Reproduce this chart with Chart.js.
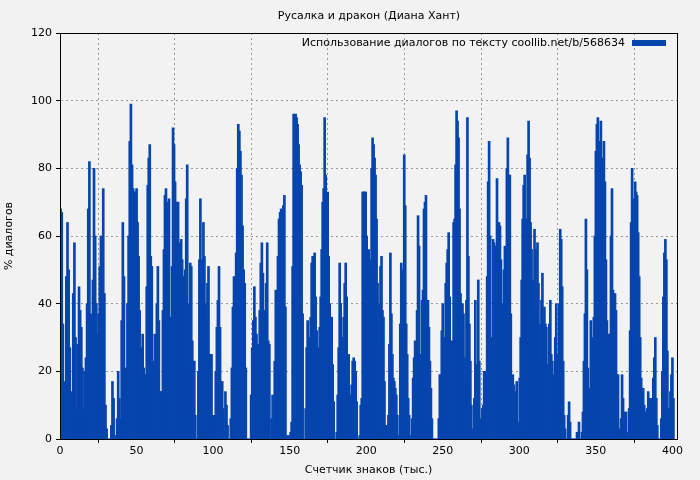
<!DOCTYPE html>
<html>
<head>
<meta charset="utf-8">
<script src="https://cdn.jsdelivr.net/npm/chart.js@4/dist/chart.umd.min.js"></script>
<style>
  html, body { margin: 0; padding: 0; background: #f2f2f2; }
  #wrap { width: 700px; height: 480px; }
</style>
</head>
<body>
<div id="wrap"><canvas id="dialogChart" width="700" height="480"></canvas></div>
<script>
// Chart text
const chartTitle = 'Русалка и дракон (Диана Хант)';
const legendLabel = 'Использование диалогов по тексту coollib.net/b/568634';
const xTitle = 'Счетчик знаков (тыс.)';
const yTitle = '% диалогов';

// x ticks and y ticks
const xTicks = [0, 50, 100, 150, 200, 250, 300, 350, 400];
const yTicks = [0, 20, 40, 60, 80, 100, 120];

// Each segment of readings covers [start, end] (thousand chars)
const segStarts = [0, 49.7, 99.3, 149, 198.7, 248.4, 298, 347.7];
const segEnds = [49.7, 99.3, 149, 198.7, 248.4, 298, 347.7, 401];

// % dialogue
const seg0 = [68,67,34,1,17,48,64,50,27,9,14,43,58,30,9,28,45,38,33,21,9,20,24,40,68,82,37,36,47,80,60,40,31,37,51,60,38,74,43,10,3,0,0,0,4,17,12,0,1,6,20,12,6,35,64,48,15,21,40,60,88,99,81,74,73,73];
const seg1 = [74,64,54,38,18,27,31,21,19,19,45,75,83,87,54,51,6,23,31,19,40,51,35,14,14,14,38,56,72,74,68,70,71,36,8,51,92,87,76,70,70,70,58,55,59,53,48,48,50,71,81,40,38,52,51,29,23,23,7,0,0,20,53,71,46,53,64,54,40,36,46,51,25,25,25];
const seg2 = [7,7,7,20,33,41,51,33,17,17,9,2,14,10,4,0,0,6,21,39,48,39,55,80,93,91,85,78,63,50,46,21,0,0,0,0,13,27,35,45,36,31,28,27,38,52,58,49,38,27,46,58,29,28,0,6,13,4,23,44,42,54,65,67,68,65,69,72,39,1,1];
const seg3 = [0,1,2,5,51,96,79,96,95,93,87,81,79,75,37,0,0,9,27,35,30,30,36,52,54,53,55,42,32,27,26,33,42,56,70,74,95,78,69,73,54,40,27,36,22,11,0,0,2,13,27,52,40,27,30,36,46,52,42,20,25,13,7,16,23,24,23,20,11,0,0,1,10,12,73,73];
const seg4 = [73,73,60,46,56,51,53,80,89,87,83,78,65,46,28,40,51,54,38,36,17,4,4,3,7,28,55,37,25,18,17,15,13,7,1,0,34,52,50,41,84,69,34,25,12,7,1,0,6,18,24,29,25,38,66,57,25,25,41,44,68,70,72,39,41,33,23,15,6,0,0,0,0,0,0,6,19];
const seg5 = [19,32,40,30,11,46,52,56,61,42,29,11,29,64,65,81,97,94,89,68,43,31,40,37,24,17,41,95,54,34,23,10,2,3,12,41,22,13,47,23,0,6,9,10,20,17,20,48,76,88,60,0,30,59,58,57,54,77,62,64,63,53,40,36,50,57,55,80,89,78,78,37,17,19,16,14,14];
const seg6 = [17,5,0,18,30,47,65,75,78,52,65,84,94,83,64,56,47,36,62,56,38,58,46,23,34,41,49,35,39,34,33,18,22,34,41,25,23,14,19,30,40,22,25,40,62,59,45,23,7,3,0,0,7,11,5,0,0,0,0,0,0,2,1,5,0,0,2,8,23,37,65,50,21,10,15,35,29];
const seg7 = [30,36,60,85,93,95,88,70,94,83,71,88,76,53,35,30,31,31,60,74,44,26,43,38,19,19,3,0,6,19,12,8,5,8,2,0,9,32,64,80,63,71,76,73,72,61,48,30,18,12,15,10,8,3,9,14,9,12,12,11,18,24,30,12,4,0,0,0,6,20,42,55,59,53,26,7,9,14,19,24,12];

const segments = [seg0, seg1, seg2, seg3, seg4, seg5, seg6, seg7];

document.addEventListener('DOMContentLoaded', () => {
    const points = [];
    segments.forEach((seg, k) => {
        const step = (segEnds[k] - segStarts[k]) / seg.length;
        seg.forEach((v, j) => {
            points.push({ x: segStarts[k] + (j + 0.5) * step, y: v });
        });
    });

    // Frame, title, axis labels and the in-plot legend
    const decor = {
        id: 'decor',
        beforeDraw(chart) {
            const c = chart.ctx;
            c.save();
            c.fillStyle = '#f2f2f2';
            c.fillRect(0, 0, chart.width, chart.height);
            c.restore();
        },
        afterDraw(chart) {
            const c = chart.ctx;
            const a = chart.chartArea;
            c.save();
            c.strokeStyle = '#000';
            c.lineWidth = 1;
            c.strokeRect(a.left + 0.5, a.top + 0.5, a.right - a.left, a.bottom - a.top);

            c.fillStyle = '#000';
            c.font = '11px "DejaVu Sans"';
            c.textAlign = 'center';
            c.textBaseline = 'middle';
            c.fillText(chartTitle, 369, 16);
            c.fillText(xTitle, (a.left + a.right) / 2, 470);

            c.translate(9, (a.top + a.bottom) / 2);
            c.rotate(-Math.PI / 2);
            c.fillText(yTitle, 0, 0);
            c.restore();

            c.save();
            c.font = '11px "DejaVu Sans"';
            c.fillStyle = '#000';
            c.textAlign = 'right';
            c.textBaseline = 'middle';
            c.fillText(legendLabel, 625, 43);
            c.fillStyle = '#0645ad';
            c.fillRect(632, 40, 34, 6);
            c.restore();
        }
    };

    new Chart(document.getElementById('dialogChart'), {
        type: 'bar',
        data: {
            datasets: [{
                label: legendLabel,
                data: points,
                backgroundColor: '#0645ad',
                borderWidth: 0,
                barThickness: 2,
                grouped: false
            }]
        },
        options: {
            responsive: false,
            animation: false,
            devicePixelRatio: 1,
            layout: { padding: { top: 33, right: 23, left: 0, bottom: 0 } },
            plugins: {
                legend: { display: false },
                title: { display: false },
                tooltip: { enabled: false }
            },
            scales: {
                x: {
                    type: 'linear',
                    min: 0,
                    max: 403,
                    offset: false,
                    afterBuildTicks: (s) => { s.ticks = xTicks.map(v => ({ value: v })); },
                    afterFit: (s) => { s.height = 41; },
                    grid: { color: '#999', tickColor: '#000', tickLength: 4, drawOnChartArea: true },
                    border: { color: '#000', dash: [2, 3] },
                    ticks: { color: '#000', font: { family: 'DejaVu Sans', size: 11 }, padding: 2, maxRotation: 0 }
                },
                y: {
                    min: 0,
                    max: 120,
                    afterBuildTicks: (s) => { s.ticks = yTicks.map(v => ({ value: v })); },
                    afterFit: (s) => { s.width = 60; },
                    grid: { color: '#999', tickColor: '#000', tickLength: 4 },
                    border: { color: '#000', dash: [2, 3] },
                    ticks: { color: '#000', font: { family: 'DejaVu Sans', size: 11 }, padding: 4 }
                }
            }
        },
        plugins: [decor]
    });
});
</script>
</body>
</html>
